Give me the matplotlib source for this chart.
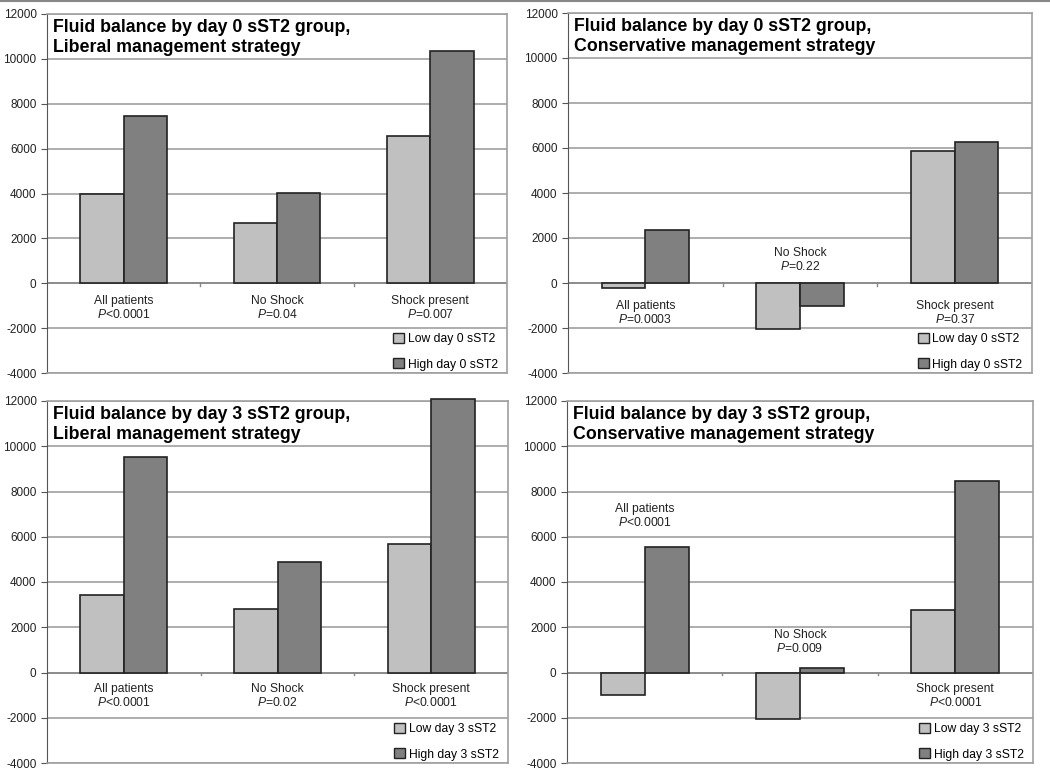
import numpy as np
import matplotlib
matplotlib.use('Agg')
import matplotlib.pyplot as plt
from matplotlib.patches import Patch
from matplotlib.lines import Line2D

plt.rcParams['font.family'] = ['Liberation Sans', 'DejaVu Sans']
plt.rcParams['mathtext.fontset'] = 'custom'
plt.rcParams['mathtext.it'] = 'Liberation Sans:italic'
plt.rcParams['mathtext.rm'] = 'Liberation Sans'
plt.rcParams['axes.unicode_minus'] = False

# Categories and values (fluid balance, mL)
categories = ['All patients', 'No Shock', 'Shock present']

titles = ['Fluid balance by day 0 sST2 group,\nLiberal management strategy',
          'Fluid balance by day 0 sST2 group,\nConservative management strategy',
          'Fluid balance by day 3 sST2 group,\nLiberal management strategy',
          'Fluid balance by day 3 sST2 group,\nConservative management strategy']

low_d0_lib = [4000, 2680, 6550]
high_d0_lib = [7440, 4030, 10330]
low_d0_con = [-240, -2030, 5850]
high_d0_con = [2340, -1040, 6250]
low_d3_lib = [3440, 2800, 5690]
high_d3_lib = [9530, 4890, 12080]
low_d3_con = [-1000, -2070, 2760]
high_d3_con = [5530, 220, 8470]

p_d0_lib = ['<0.0001', '=0.04', '=0.007']
p_d0_con = ['=0.0003', '=0.22', '=0.37']
p_d3_lib = ['<0.0001', '=0.02', '<0.0001']
p_d3_con = ['<0.0001', '=0.009', '<0.0001']

legend_low = ['Low day 0 sST2', 'Low day 0 sST2', 'Low day 3 sST2', 'Low day 3 sST2']
legend_high = ['High day 0 sST2', 'High day 0 sST2', 'High day 3 sST2', 'High day 3 sST2']

# y position (data units) of the centre of each two-line category label
label_y_d0_lib = [-1100, -1100, -1100]
label_y_d0_con = [-1350, 1040, -1350]
label_y_d3_lib = [-1060, -1060, -1060]
label_y_d3_con = [6930, 1340, -1060]

panels = [
    (low_d0_lib, high_d0_lib, p_d0_lib, label_y_d0_lib),
    (low_d0_con, high_d0_con, p_d0_con, label_y_d0_con),
    (low_d3_lib, high_d3_lib, p_d3_lib, label_y_d3_lib),
    (low_d3_con, high_d3_con, p_d3_con, label_y_d3_con),
]

# axes rectangles in pixels: left, right, top, bottom
W, H = 1050, 776
rects = [(47, 507, 14, 373), (568, 1032, 13, 373),
         (47, 508, 401, 763), (567, 1033, 401, 763)]

light = '#c0c0c0'
dark = '#808080'
bw = 0.283

fig = plt.figure(figsize=(W / 100, H / 100), dpi=100)
fig.add_artist(Line2D([0, 1], [0.999, 0.999], color='#888888', lw=1.5, transform=fig.transFigure))

for i, (low, high, pv, ly) in enumerate(panels):
    l, r, t, b = rects[i]
    ax = fig.add_axes([l / W, 1 - b / H, (r - l) / W, (b - t) / H])
    x = np.arange(len(categories))
    ax.set_xlim(-0.5, 2.5)
    ax.set_ylim(-4000, 12000)
    ax.set_yticks(np.arange(-4000, 12001, 2000))
    ax.yaxis.grid(True, color='#a0a0a0', lw=1.2)
    ax.set_axisbelow(True)
    ax.bar(x - bw / 2, low, bw, color=light, edgecolor='#222222', lw=1.2, zorder=3,
           label=legend_low[i], clip_on=False)
    ax.bar(x + bw / 2, high, bw, color=dark, edgecolor='#222222', lw=1.2, zorder=3,
           label=legend_high[i], clip_on=False)
    ax.axhline(0, color='#888888', lw=1.2, zorder=2)
    # category boundary ticks on zero line
    for xb in [0.5, 1.5, 2.5]:
        ax.plot([xb, xb], [0, -120], color='#888888', lw=1.0, zorder=2)
    for j, c in enumerate(categories):
        ax.text(x[j], ly[j], c + '\n' + r'$P$' + pv[j], ha='center', va='center',
                fontsize=8.7, color='#222222', linespacing=1.1)
    ax.set_xticks([])
    for s in ['top', 'right', 'bottom']:
        ax.spines[s].set_color('#a0a0a0')
        ax.spines[s].set_linewidth(1.2)
    ax.spines['left'].set_color('#555555')
    ax.tick_params(axis='y', labelsize=8.5, length=4, color='#555555', labelcolor='#222222')
    ax.text(0.013, 0.985, titles[i], transform=ax.transAxes, ha='left', va='top',
            fontsize=12.8, fontweight='bold', linespacing=1.2)
    handles = [Patch(facecolor=light, edgecolor='#222222', label=legend_low[i]),
               Patch(facecolor=dark, edgecolor='#222222', label=legend_high[i])]
    ax.legend(handles=handles, loc='lower right', bbox_to_anchor=(0.985, 0.0),
              frameon=False, fontsize=8.7,
              handlelength=0.9, handleheight=0.9, handletextpad=0.3, labelspacing=1.1,
              borderaxespad=0.0, borderpad=0.2)

fig.savefig('out.png', dpi=100, facecolor='white')
